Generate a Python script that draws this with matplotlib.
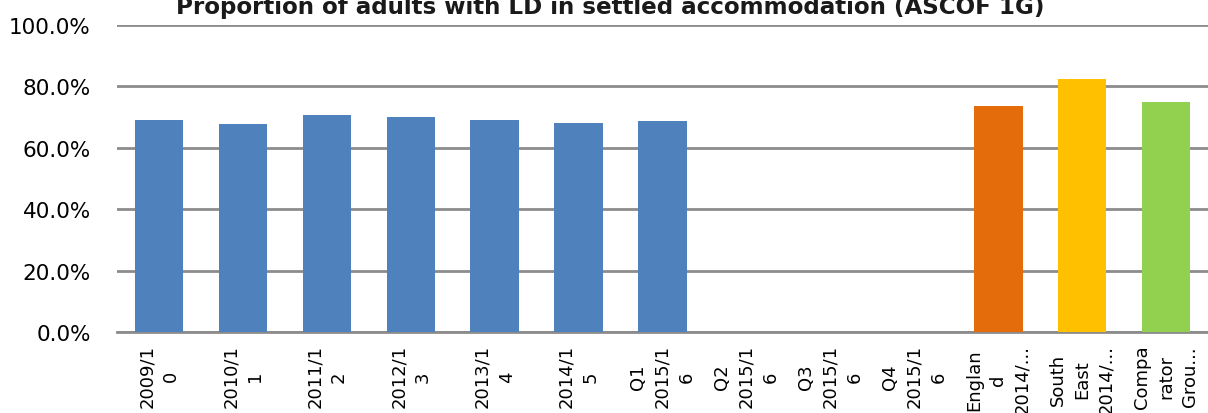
import numpy as np
import matplotlib
matplotlib.use('Agg')
import matplotlib.pyplot as plt
from matplotlib.ticker import FuncFormatter

labels = ['2009/1\n0', '2010/1\n1', '2011/1\n2', '2012/1\n3', '2013/1\n4', '2014/1\n5',
          'Q1\n2015/1\n6', 'Q2\n2015/1\n6', 'Q3\n2015/1\n6', 'Q4\n2015/1\n6',
          'Englan\nd\n2014/...', 'South\nEast\n2014/...', 'Compa\nrator\nGrou...']
values = [69.1, 67.8, 70.7, 69.9, 69.2, 68.1, 68.8, np.nan, np.nan, np.nan, 73.6, 82.4, 74.9]
colors = ['#4F81BD'] * 10 + ['#E46C0A', '#FFC000', '#92D050']

fig = plt.figure(figsize=(12.08, 4.14), dpi=100)
ax = fig.add_axes([0.097, 0.196, 0.903, 0.741])

x = np.arange(len(labels))
ax.bar(x, values, width=0.58, color=colors, zorder=3)

ax.set_ylim(0, 100)
ax.set_xlim(-0.5, len(labels) - 0.5)
ax.set_yticks(np.arange(0, 101, 20))
ax.yaxis.set_major_formatter(FuncFormatter(lambda v, p: f'{v:.1f}%'))
ax.grid(axis='y', color='#8C8C8C', linewidth=2, zorder=0)
ax.set_axisbelow(True)
for s in ['top', 'right', 'left']:
    ax.spines[s].set_visible(False)
ax.spines['bottom'].set_color('#8C8C8C')
ax.spines['bottom'].set_linewidth(2)

ax.tick_params(axis='y', length=0, labelsize=15.5, pad=19)
ax.tick_params(axis='x', length=0, labelsize=13, pad=9)
ax.set_xticks(x)
ax.set_xticklabels(labels, rotation=90, multialignment='center', linespacing=1.45)

fig.text(0.505, 0.966, 'Proportion of adults with LD in settled accommodation (ASCOF 1G)',
         ha='center', va='baseline', fontsize=16.6, fontweight='bold', color='#1a1a1a')

fig.savefig('out.png', dpi=100)
